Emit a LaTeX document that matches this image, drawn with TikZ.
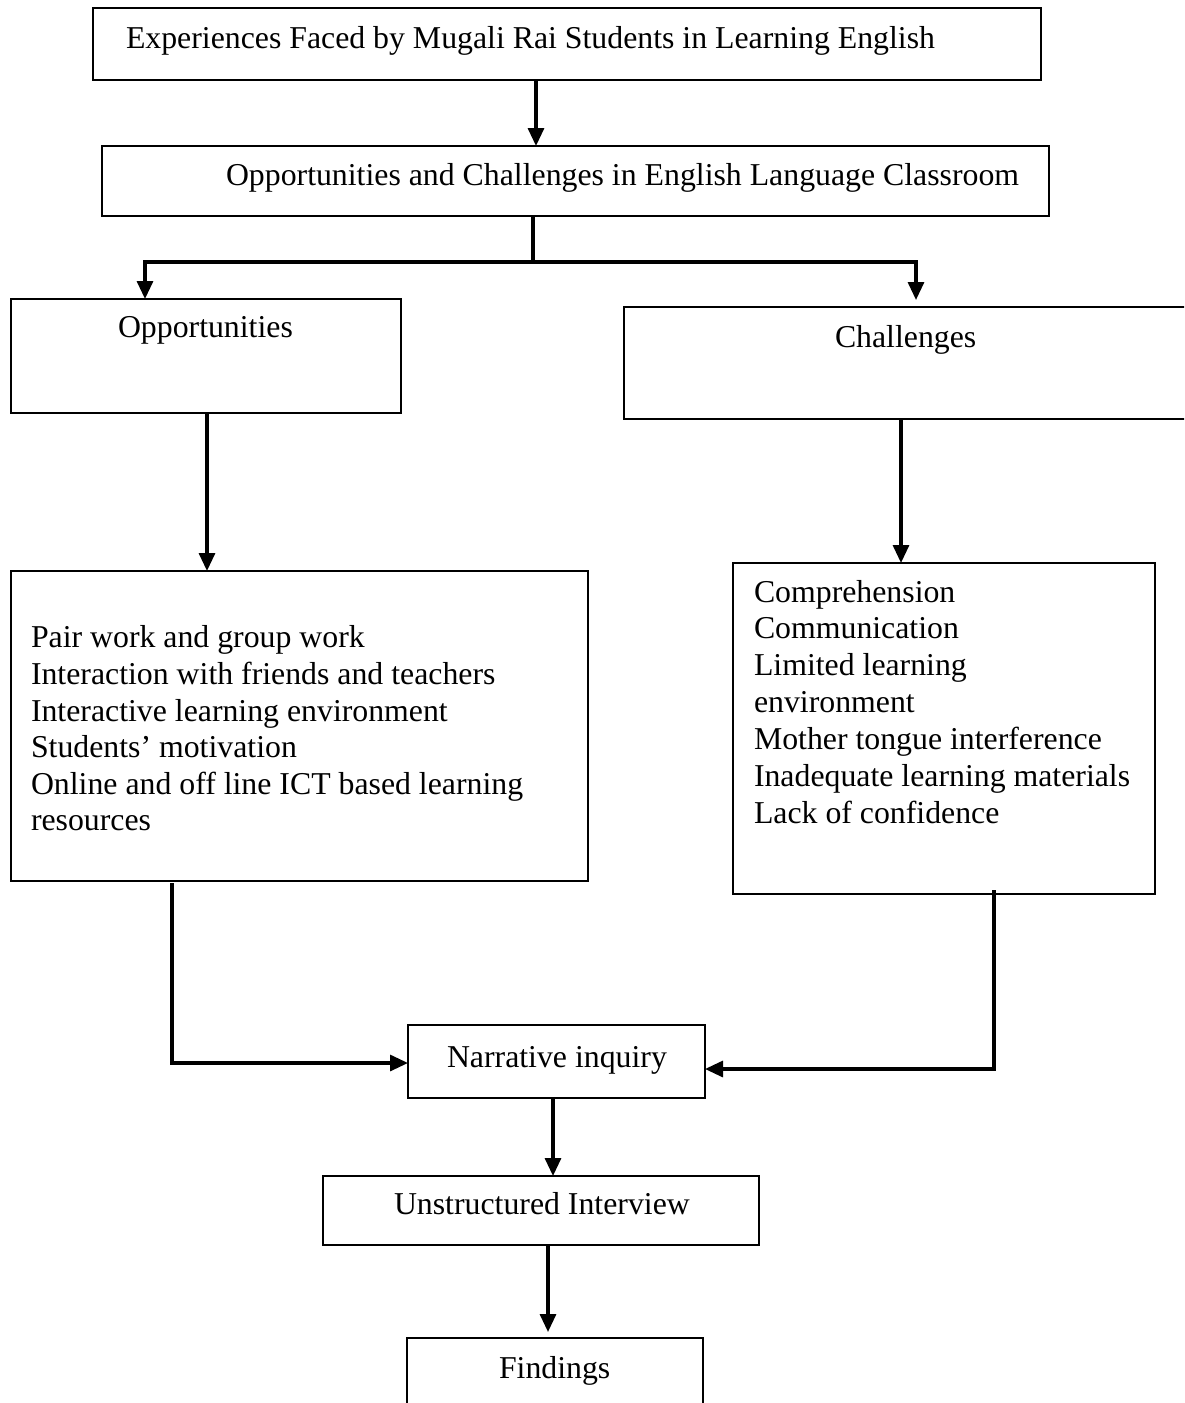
\documentclass[tikz,border=0pt]{standalone}
\usepackage{fontspec}
\setmainfont{Liberation Serif}
\usetikzlibrary{arrows.meta}
\begin{document}
\begin{tikzpicture}[x=1pt,y=-1pt,
  box/.style={draw, line width=1.7pt, inner sep=0pt, outer sep=0pt},
  txt/.style={anchor=base west, inner sep=0pt, outer sep=0pt, font=\fontsize{31.8}{36.8}\selectfont},
  ln/.style={line width=3.2pt},
  arr/.style={line width=3.2pt, -{Triangle[length=18pt,width=16pt]}}]
\clip (0,0) rectangle (1184,1403);
\fill[white] (0,0) rectangle (1184,1403);
% boxes
\node[box, minimum width=948pt, minimum height=72pt] (b1) at (567,44) {};
\node[box, minimum width=947pt, minimum height=70pt] (b2) at (575.5,181) {};
\node[box, minimum width=390pt, minimum height=114pt] (opp) at (206,356) {};
\node[box, minimum width=576pt, minimum height=112pt] (ch) at (912,363) {};
\node[box, minimum width=577pt, minimum height=310pt] (ol) at (299.5,726) {};
\node[box, minimum width=422pt, minimum height=331pt] (cl) at (944,728.5) {};
\node[box, minimum width=297pt, minimum height=73pt] (narr) at (556.5,1061.5) {};
\node[box, minimum width=436pt, minimum height=69pt] (un) at (541,1210.5) {};
\node[box, minimum width=296pt, minimum height=82pt] (find) at (555,1379) {};
% texts
\node[txt] (t1) at (126,48) {Experiences Faced by Mugali Rai Students in Learning English};
\node[txt] (t2) at (226,185) {Opportunities and Challenges in English Language Classroom};
\node[txt] (topp) at (118,337) {Opportunities};
\node[txt] (tch) at (835,347) {Challenges};
\node[txt] (o1) at (31,647) {Pair work and group work};
\node[txt] (o2) at (31,684) {Interaction with friends and teachers};
\node[txt] (o3) at (31,721) {Interactive learning environment};
\node[txt] (o4) at (31,757) {Students’ motivation};
\node[txt] (o5) at (31,794) {Online and off line ICT based learning};
\node[txt] (o6) at (31,830) {resources};
\node[txt] (c1) at (754,602) {Comprehension};
\node[txt] (c2) at (754,638) {Communication};
\node[txt] (c3) at (754,675) {Limited learning};
\node[txt] (c4) at (754,712) {environment};
\node[txt] (c5) at (754,749) {Mother tongue interference};
\node[txt] (c6) at (754,786) {Inadequate learning materials};
\node[txt] (c7) at (754,823) {Lack of confidence};
\node[txt] (tn) at (447,1067) {Narrative inquiry};
\node[txt] (tu) at (394,1214) {Unstructured Interview};
\node[txt] (tf) at (499,1378) {Findings};
% connectors
\coordinate (split) at (533,262);
\coordinate (chtip) at (916,300);
\draw[arr] (536,0 |- b1.south) -- (536,0 |- b2.north);
\draw[ln] (533,0 |- b2.south) -- (split);
\draw[arr] (split) -| (145,0 |- opp.north);
\draw[arr] (split) -| (chtip);
\draw[arr] (207,0 |- opp.south) -- (207,0 |- ol.north);
\draw[arr] (901,0 |- ch.south) -- (901,0 |- cl.north);
\draw[arr] (172,883) |- (narr.west |- 0,1063);
\draw[arr] (994,890) |- (narr.east |- 0,1069);
\draw[arr] (553,0 |- narr.south) -- (553,0 |- un.north);
\draw[arr, shorten >=6pt] (548,0 |- un.south) -- (548,0 |- find.north);
\end{tikzpicture}
\end{document}
